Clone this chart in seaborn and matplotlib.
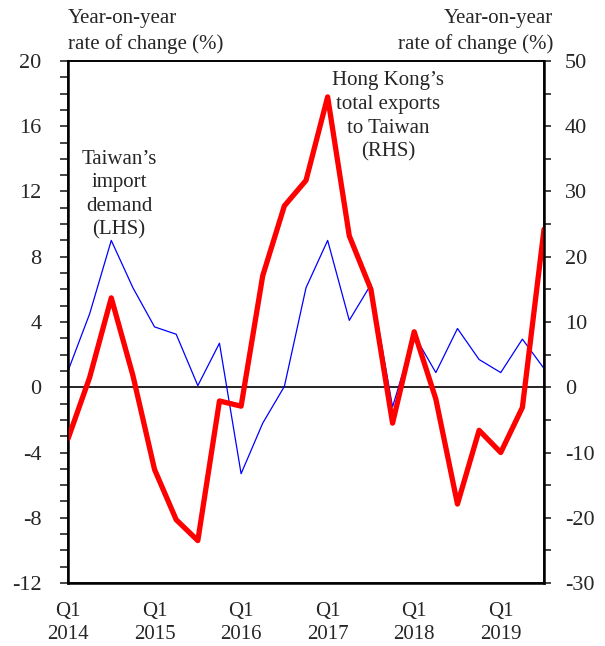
import numpy as np
import pandas as pd
import matplotlib
matplotlib.use("Agg")
import matplotlib.pyplot as plt
import seaborn as sns
from matplotlib.ticker import MultipleLocator

# Quarterly data, Q1 2014 - Q3 2019
quarters = [f"{y} Q{q}" for y in range(2014, 2020) for q in range(1, 5)][:23]
taiwan_imports = [1.0, 4.5, 9.0, 6.1, 3.7, 3.25, 0.1, 2.7, -5.3, -2.2, 0.05, 6.1,
                  9.0, 4.1, 6.3, -1.2, 3.2, 0.9, 3.6, 1.7, 0.9, 2.95, 1.15]
hk_exports = [-7.9, 1.5, 13.7, 1.8, -12.6, -20.3, -23.5, -2.1, -2.9, 17.1, 27.8, 31.7,
              44.5, 23.2, 15.0, -5.5, 8.5, -1.8, -17.9, -6.6, -10.0, -3.1, 24.2]
year_labels = ["Q1\n2014", "Q1\n2015", "Q1\n2016", "Q1\n2017", "Q1\n2018", "Q1\n2019"]

df = pd.DataFrame({"quarter": quarters,
                   "idx": range(len(quarters)),
                   "taiwan": taiwan_imports,
                   "hk": hk_exports})

sns.set_style("white")
plt.rcParams["font.family"] = ["Liberation Serif", "DejaVu Serif"]
plt.rcParams["axes.unicode_minus"] = False

fig = plt.figure(figsize=(6.05, 6.46), dpi=100)
ax = fig.add_axes([0.1124, 0.0975, 0.7868, 0.8081])
ax2 = ax.twinx()

sns.lineplot(data=df, x="idx", y="taiwan", ax=ax, color="#0000ff", linewidth=0.9)
sns.lineplot(data=df, x="idx", y="hk", ax=ax2, color="#ff0000", linewidth=3.8)
ax.axhline(0, color="black", linewidth=1.2, zorder=1)

ax.set_xlim(0, 22)
ax.set_ylim(-12, 20)
ax2.set_ylim(-30, 50)

ax.yaxis.set_major_locator(MultipleLocator(4))
ax.yaxis.set_minor_locator(MultipleLocator(1))
ax2.yaxis.set_major_locator(MultipleLocator(10))
ax2.yaxis.set_minor_locator(MultipleLocator(5))
ax.set_xticks(range(0, 23, 4))
ax.set_xticklabels(year_labels, linespacing=1.22)
ax.xaxis.set_minor_locator(MultipleLocator(1))

ax.tick_params(axis="x", which="major", direction="inout", length=12, width=1.5,
               labelsize=15, pad=8)
ax.tick_params(axis="x", which="minor", direction="in", length=6, width=1.2)
ax.tick_params(axis="y", which="both", direction="out", length=6, width=1.2,
               labelsize=16, pad=13)
ax.tick_params(axis="y", which="minor", left=True)
ax2.tick_params(axis="y", which="both", direction="out", length=5, width=1.2,
                labelsize=16, pad=10, right=True)

ax.set_xlabel("")
ax.set_ylabel("")
ax2.set_ylabel("")

for a in (ax, ax2):
    for s in a.spines.values():
        s.set_visible(True)
        s.set_color("black")
        s.set_linewidth(1.2)
ax.spines["left"].set_linewidth(1.8)
ax.spines["bottom"].set_linewidth(1.8)
ax2.spines["right"].set_linewidth(1.8)

fig.text(0.1124, 0.986, "Year-on-year\nrate of change (%)", ha="left", va="top",
         fontsize=15, linespacing=1.4)
fig.text(0.914, 0.986, "Year-on-year\nrate of change (%)", ha="right", va="top",
         fontsize=15, linespacing=1.4)

ax.text(2.36, 11.8, "Taiwan\u2019s\nimport\ndemand\n(LHS)", ha="center", va="center",
        fontsize=15, linespacing=1.33)
ax.text(14.8, 16.6, "Hong Kong\u2019s\ntotal exports\nto Taiwan\n(RHS)", ha="center",
        va="center", fontsize=15, linespacing=1.33)

fig.savefig("out.png", dpi=100)
